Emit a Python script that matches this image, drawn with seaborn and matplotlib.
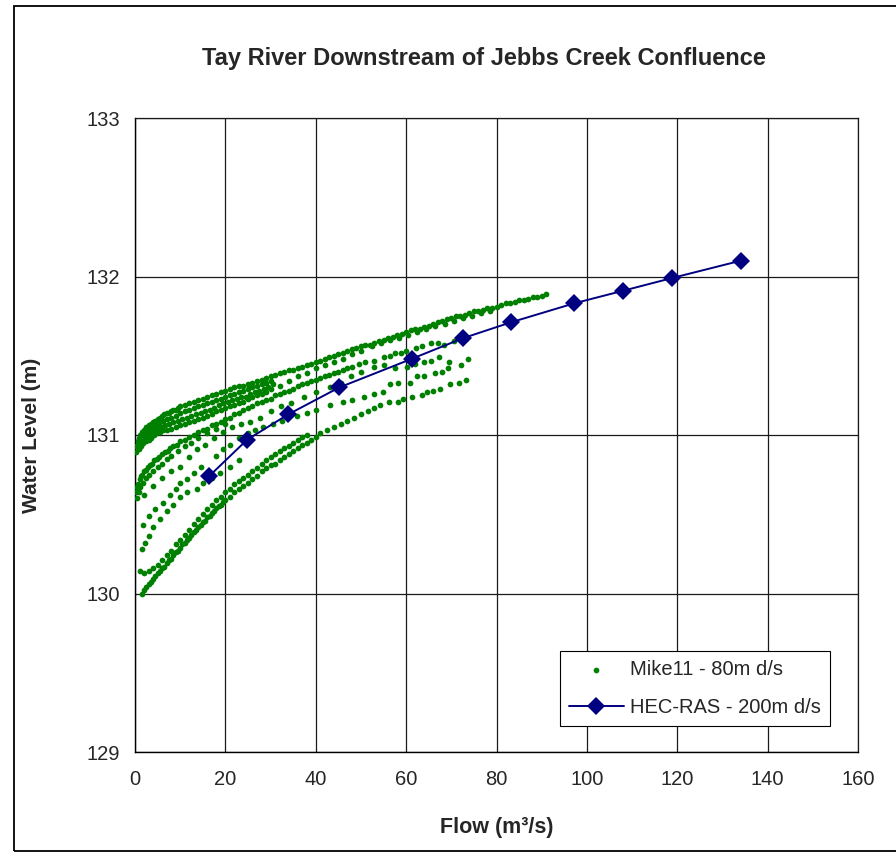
import numpy as np
import matplotlib
matplotlib.use("Agg")
import matplotlib.pyplot as plt
from matplotlib.patches import Rectangle
from matplotlib.ticker import MultipleLocator
import pandas as pd
import seaborn as sns

sns.set_theme(style="white")
plt.rcParams["font.family"] = ["Liberation Sans", "DejaVu Sans"]

# %% values (flow m3/s, water level m)

# HEC-RAS rating curve, 200 m d/s
hec_flow = [16.4, 24.8, 33.9, 45.2, 61.2, 72.5, 83.1, 97.1, 108.0, 118.8, 134.1]
hec_level = [130.74, 130.97, 131.13, 131.30, 131.48, 131.61, 131.71, 131.83, 131.91, 131.99, 132.10]

# Mike11 - upper dense band, top edge
upper_top_flow = [0.3, 0.6, 0.9, 1.2, 1.6, 2.0, 2.5, 3.0, 3.5, 4.0,
                  4.5, 5.0, 5.5, 6.0, 6.5, 7.0, 7.5, 8.0, 8.5, 9.0,
                  9.5, 10, 11, 12, 13, 14, 15, 16, 17, 18,
                  19, 20, 21, 22, 23, 24, 25, 26, 27, 28,
                  29, 30, 31, 32, 33, 34, 35, 36, 37, 38,
                  39, 40, 41, 42, 43, 44, 45, 46, 47, 48,
                  49, 50, 51, 52, 53, 54, 55, 56, 57, 58,
                  59, 60, 61, 62, 63, 64, 65, 66, 67, 68,
                  69, 70, 71, 72, 73, 74, 75, 76, 77, 78,
                  79, 80, 81, 82, 83, 84, 85, 86, 87, 88,
                  89, 90, 91]
upper_top_level = [130.93, 130.96, 130.98, 131.00, 131.02, 131.03, 131.05, 131.06, 131.07, 131.08,
                   131.09, 131.10, 131.11, 131.12, 131.13, 131.14, 131.14, 131.15, 131.16, 131.16,
                   131.17, 131.18, 131.19, 131.20, 131.21, 131.22, 131.23, 131.24, 131.25, 131.26,
                   131.27, 131.28, 131.29, 131.30, 131.31, 131.31, 131.32, 131.33, 131.34, 131.35,
                   131.36, 131.37, 131.38, 131.39, 131.40, 131.41, 131.41, 131.42, 131.43, 131.44,
                   131.45, 131.46, 131.47, 131.48, 131.49, 131.50, 131.51, 131.52, 131.53, 131.54,
                   131.55, 131.56, 131.57, 131.57, 131.58, 131.59, 131.60, 131.61, 131.62, 131.63,
                   131.64, 131.65, 131.66, 131.67, 131.67, 131.68, 131.69, 131.70, 131.71, 131.72,
                   131.73, 131.74, 131.75, 131.75, 131.76, 131.77, 131.78, 131.78, 131.79, 131.80,
                   131.80, 131.81, 131.82, 131.83, 131.83, 131.84, 131.85, 131.85, 131.86, 131.87,
                   131.87, 131.88, 131.89]

# upper band, inner rows (thick part at low flow)
upper_mid1_flow = [0.6, 1.2, 1.8, 2.4, 3.0, 3.6, 4.2, 4.8, 5.5, 6.2,
                   7, 8, 9, 10, 11, 12, 13, 14, 15, 16,
                   17, 18, 19, 20, 21, 22, 23, 24, 25, 26,
                   27, 28, 29, 30]
upper_mid1_level = [130.94, 130.97, 131.00, 131.01, 131.03, 131.04, 131.05, 131.06, 131.08, 131.09,
                    131.10, 131.11, 131.12, 131.14, 131.15, 131.16, 131.17, 131.18, 131.19, 131.20,
                    131.21, 131.22, 131.23, 131.24, 131.25, 131.26, 131.27, 131.28, 131.29, 131.30,
                    131.31, 131.32, 131.33, 131.34]
upper_mid2_flow = [0.9, 1.5, 2.1, 2.7, 3.3, 3.9, 4.5, 5.1, 5.8, 6.6,
                   7.5, 8.5, 9.5, 10.5, 11.5, 12.5, 13.5, 14.5, 15.5, 16.5,
                   17.5, 18.5, 19.5, 20.5, 21.5, 22.5, 23.5, 24.5, 25.5, 26.5,
                   27.5, 28.5, 29.5, 30.5]
upper_mid2_level = [130.92, 130.95, 130.97, 130.99, 131.00, 131.01, 131.03, 131.04, 131.05, 131.06,
                    131.07, 131.08, 131.09, 131.10, 131.11, 131.12, 131.13, 131.14, 131.15, 131.16,
                    131.17, 131.19, 131.20, 131.21, 131.22, 131.23, 131.24, 131.24, 131.26, 131.27,
                    131.28, 131.29, 131.30, 131.32]

# upper band, bottom edge
upper_low_flow = [0.3, 0.8, 1.3, 1.8, 2.4, 3.0, 3.6, 4.2, 4.8, 5.5,
                  6.2, 7, 8, 9, 10, 11, 12, 13, 14, 15,
                  16, 17, 18, 19, 20, 21, 22, 23, 24, 25,
                  26, 27, 28, 29, 30, 32, 34, 36, 38, 40,
                  42, 44, 46, 48, 50, 52.5, 54.5, 56.5, 58.5, 60.5,
                  62.5, 64.5, 66.5, 68.5, 70.5, 72.5, 74.5, 76.5, 78.5]
upper_low_level = [130.89, 130.91, 130.93, 130.95, 130.96, 130.97, 130.98, 131.00, 131.01, 131.02,
                   131.03, 131.03, 131.04, 131.05, 131.06, 131.07, 131.08, 131.09, 131.10, 131.11,
                   131.12, 131.13, 131.15, 131.16, 131.17, 131.18, 131.19, 131.20, 131.21, 131.23,
                   131.24, 131.25, 131.26, 131.27, 131.29, 131.31, 131.34, 131.37, 131.39, 131.42,
                   131.44, 131.46, 131.48, 131.51, 131.53, 131.56, 131.58, 131.60, 131.61, 131.63,
                   131.65, 131.67, 131.69, 131.70, 131.72, 131.74, 131.75, 131.77, 131.78]

# second band
second_flow = [0.3, 0.5, 0.7, 1.0, 1.3, 1.6, 2.0, 2.4, 2.8, 3.3,
               3.8, 4.3, 4.8, 5.4, 6.0, 6.6, 7.2, 7.8, 8.5, 9.2,
               10, 11, 12, 13, 14, 15, 16, 17, 18, 19,
               20, 21, 22, 23, 24, 25, 26, 27, 28, 29,
               30, 31, 32, 33, 34, 35, 36, 37, 38, 39,
               40, 41, 42, 43, 44, 45, 46, 47, 48, 49.5]
second_level = [130.64, 130.67, 130.69, 130.72, 130.74, 130.75, 130.77, 130.78, 130.80, 130.81,
                130.82, 130.84, 130.85, 130.86, 130.88, 130.89, 130.90, 130.92, 130.93, 130.94,
                130.96, 130.97, 130.99, 131.00, 131.02, 131.03, 131.04, 131.06, 131.07, 131.08,
                131.10, 131.11, 131.13, 131.14, 131.16, 131.17, 131.18, 131.20, 131.21, 131.22,
                131.23, 131.25, 131.26, 131.27, 131.28, 131.29, 131.31, 131.32, 131.33, 131.34,
                131.35, 131.36, 131.37, 131.38, 131.39, 131.40, 131.41, 131.42, 131.43, 131.45]
second_low_flow = [0.4, 0.8, 1.2, 1.8, 2.5, 3.2, 4, 5, 6, 7, 8, 9.5, 11, 12.5, 14, 16, 18, 20]
second_low_level = [130.60, 130.64, 130.67, 130.70, 130.73, 130.75, 130.77, 130.80, 130.82, 130.85,
                    130.87, 130.90, 130.93, 130.95, 130.98, 131.01, 131.04, 131.07]
second_tail_flow = [51, 53, 55, 56.5, 57.6, 58.8, 60, 62.1, 63.5, 65.4, 67, 68.3, 70.5]
second_tail_level = [131.46, 131.47, 131.49, 131.50, 131.52, 131.52, 131.53, 131.55, 131.56, 131.58,
                     131.58, 131.57, 131.59]

# sparse loops in between
third_flow = [2, 4, 6, 8, 10, 12, 13.7, 15.5, 17.5, 19.5,
              21.5, 23.5, 25.5, 27.7, 30, 32.2, 34.5, 37.3, 40, 43.2,
              45.5, 47.7, 50, 52.8, 55, 57.6, 60.3, 62, 63.9, 65.5,
              67.2, 69.5, 72.1, 73.6]
third_level = [130.62, 130.68, 130.73, 130.77, 130.80, 130.86, 130.91, 130.94, 130.98, 131.02,
               131.05, 131.07, 131.08, 131.11, 131.15, 131.18, 131.20, 131.24, 131.27, 131.30,
               131.33, 131.37, 131.40, 131.43, 131.44, 131.42, 131.43, 131.45, 131.46, 131.47,
               131.49, 131.46, 131.44, 131.48]
fourth_flow = [1.8, 3, 4.5, 6.2, 7.8, 9, 10, 11.5, 13, 14.5,
               18, 19.5, 21.1, 23, 25, 26.5, 28.4, 30.5, 32.5, 35.9,
               38, 40, 43.2, 46, 48, 50.6, 53, 54.8, 56.5, 58.1,
               60.9, 62.5, 64, 66.5, 68, 69.2]
fourth_level = [130.43, 130.49, 130.53, 130.57, 130.62, 130.66, 130.70, 130.72, 130.76, 130.80,
                130.87, 130.91, 130.94, 130.98, 131.01, 131.03, 131.05, 131.07, 131.09, 131.12,
                131.14, 131.16, 131.19, 131.21, 131.22, 131.24, 131.26, 131.27, 131.32, 131.33,
                131.33, 131.37, 131.37, 131.39, 131.40, 131.42]
fifth_flow = [1.5, 2.2, 3, 4, 5.5, 7.1, 8.5, 10, 11.5, 13.7, 15.1, 17, 18.8, 21, 23]
fifth_level = [130.28, 130.32, 130.36, 130.42, 130.47, 130.52, 130.56, 130.61, 130.64, 130.66,
               130.70, 130.73, 130.76, 130.80, 130.84]

# lowest double band
lowest_flow = [1.5, 2, 2.5, 3, 3.5, 4, 4.5, 5, 5.5, 6,
               6.5, 7, 7.5, 8, 8.5, 9, 9.5, 10, 10.5, 11,
               11.5, 12, 12.5, 13, 13.5, 14, 14.5, 15, 15.5, 16,
               16.5, 17, 17.5, 18, 18.5, 19, 19.5, 20,
               21, 22, 23, 24, 25, 26, 27, 28, 29, 30,
               31, 32, 33, 34, 35, 36, 37, 38, 39, 40]
lowest_level = [130.00, 130.02, 130.04, 130.06, 130.07, 130.09, 130.11, 130.13, 130.14, 130.16,
                130.17, 130.19, 130.21, 130.22, 130.24, 130.26, 130.27, 130.29, 130.31, 130.32,
                130.34, 130.35, 130.37, 130.39, 130.40, 130.42, 130.43, 130.45, 130.46, 130.48,
                130.49, 130.51, 130.52, 130.54, 130.55, 130.56, 130.58, 130.59,
                130.61, 130.64, 130.66, 130.68, 130.70, 130.72, 130.74, 130.77, 130.79, 130.81,
                130.82, 130.84, 130.86, 130.88, 130.90, 130.92, 130.94, 130.95, 130.97, 130.99]
lowest_b_flow = [1.1, 2, 3, 4, 5, 6, 7, 8, 9, 10,
                 11, 12, 13, 14, 15, 16, 17, 18, 19, 20,
                 21, 22, 23, 24, 25, 26, 27, 28, 29, 30,
                 31, 32, 33, 34, 35, 36, 37, 38]
lowest_b_level = [130.14, 130.13, 130.14, 130.16, 130.18, 130.21, 130.24, 130.27, 130.31, 130.34,
                  130.37, 130.40, 130.44, 130.47, 130.50, 130.53, 130.56, 130.59, 130.61, 130.64,
                  130.66, 130.69, 130.71, 130.73, 130.75, 130.77, 130.79, 130.82, 130.84, 130.86,
                  130.88, 130.90, 130.92, 130.93, 130.95, 130.97, 130.99, 131.00]
lowest_tail_flow = [41, 42.5, 44, 45.5, 47, 48.5, 50, 51.5, 53, 54.3,
                    56.1, 58.1, 59.4, 61.4, 63.6, 64.7, 65.9, 67.6, 69.8, 71.6, 73.2]
lowest_tail_level = [131.01, 131.03, 131.05, 131.07, 131.09, 131.11, 131.13, 131.15, 131.17, 131.19,
                     131.21, 131.21, 131.23, 131.24, 131.25, 131.27, 131.28, 131.29, 131.32, 131.33, 131.35]

# %% assemble
pieces = [(upper_top_flow, upper_top_level), (upper_mid1_flow, upper_mid1_level),
          (upper_mid2_flow, upper_mid2_level), (upper_low_flow, upper_low_level),
          (second_flow, second_level), (second_low_flow, second_low_level),
          (second_tail_flow, second_tail_level), (third_flow, third_level),
          (fourth_flow, fourth_level), (fifth_flow, fifth_level),
          (lowest_flow, lowest_level), (lowest_b_flow, lowest_b_level),
          (lowest_tail_flow, lowest_tail_level)]
mike = pd.concat([pd.DataFrame({"flow": f, "level": h}) for f, h in pieces], ignore_index=True)
hec = pd.DataFrame({"flow": hec_flow, "level": hec_level})

# %% plot
fig = plt.figure(figsize=(8.96, 8.59), dpi=100)
ax = fig.add_axes([135 / 896, 1 - 752 / 859, 723 / 896, 634 / 859])
ax.set_facecolor("white")

sns.scatterplot(data=mike, x="flow", y="level", ax=ax, color="#008000", s=17,
                linewidth=0, label="Mike11 - 80m d/s", zorder=3)
sns.lineplot(data=hec, x="flow", y="level", ax=ax, color="#000080", linewidth=1.4,
             marker="D", markersize=9, markeredgewidth=0, sort=False, estimator=None,
             label="HEC-RAS - 200m d/s", zorder=4)

ax.set_xlim(0, 160)
ax.set_ylim(129, 133)
ax.xaxis.set_major_locator(MultipleLocator(20))
ax.xaxis.set_minor_locator(MultipleLocator(4))
ax.yaxis.set_major_locator(MultipleLocator(1))
ax.yaxis.set_minor_locator(MultipleLocator(0.2))
ax.tick_params(which="both", direction="inout", color="black", width=0.8)
ax.tick_params(which="major", length=8, labelsize=14.5)
ax.tick_params(which="minor", length=6)
ax.tick_params(axis="x", which="major", pad=9)
ax.tick_params(axis="y", which="major", pad=7)
ax.grid(True, which="major", color="#1a1a1a", linewidth=0.9)
for side in ["top", "right"]:
    ax.spines[side].set_color("#1a1a1a")
    ax.spines[side].set_linewidth(0.9)
for side in ["left", "bottom"]:
    ax.spines[side].set_color("black")
    ax.spines[side].set_linewidth(1.0)

ax.set_xlabel("Flow (m³/s)", fontsize=15.5, fontweight="bold", va="center")
ax.set_ylabel("Water Level (m)", fontsize=15, fontweight="bold", va="center")
ax.xaxis.set_label_coords(0.5, (752 - 827) / 634)
ax.yaxis.set_label_coords((32 - 135) / 723, 0.5)
fig.text(484 / 896, 1 - 58 / 859, "Tay River Downstream of Jebbs Creek Confluence",
         ha="center", va="center", fontsize=17, fontweight="bold")

leg = ax.legend(loc="lower left", bbox_to_anchor=(0.588, 0.041), fontsize=14.5,
                frameon=True, fancybox=False, edgecolor="black", framealpha=1,
                handlelength=2.7, handletextpad=0.3, labelspacing=0.95,
                borderpad=0.45, borderaxespad=0)
leg.get_frame().set_linewidth(0.8)

fig.add_artist(Rectangle((14 / 896, 8 / 859), 1.2, 845 / 859, transform=fig.transFigure,
                         fill=False, edgecolor="black", linewidth=1.3))

fig.savefig("out.png", dpi=100)
